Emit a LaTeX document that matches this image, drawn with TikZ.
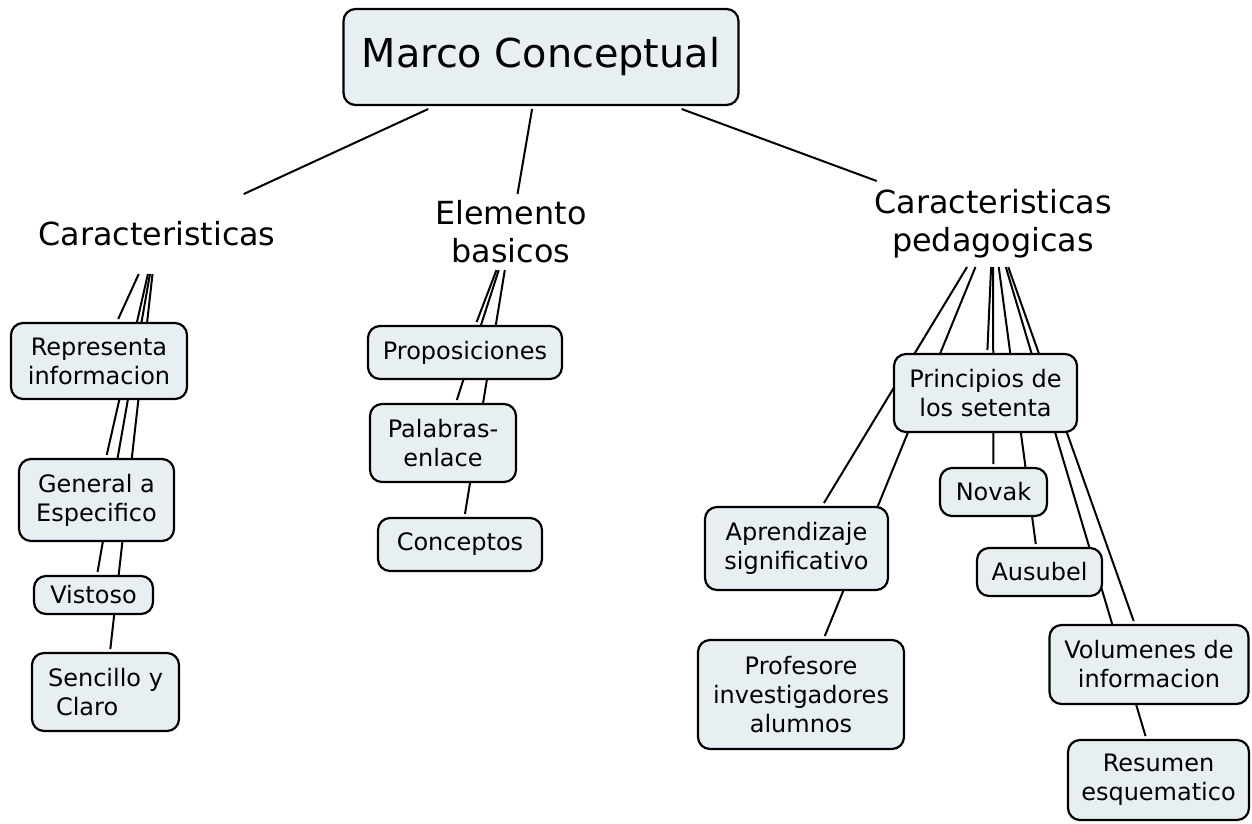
\documentclass[tikz,border=0pt]{standalone}
\usepackage{fontspec}
\setmainfont{DejaVu Sans}
\definecolor{cfill}{RGB}{232,239,242}
\pgfdeclarelayer{bg}
\pgfsetlayers{bg,main}
\begin{document}
\begin{tikzpicture}[x=1pt,y=-1pt,
  concept/.style={draw=black, line width=2.2pt, fill=cfill, rounded corners=12pt,
    align=center, inner sep=0pt, outer sep=4pt, font=\fontsize{24}{29}\selectfont},
  linkp/.style={align=center, inner sep=0pt, outer sep=0pt, font=\fontsize{31.8}{38}\selectfont},
  conn/.style={line width=2pt, draw=black}]
\useasboundingbox (0,0) rectangle (1252,823);

% top concept
\node[concept, minimum width=395pt, minimum height=96pt, font=\fontsize{39.8}{46}\selectfont] (marco) at (541,57) {Marco Conceptual};

% linking phrases
\node[linkp, minimum width=240pt, minimum height=80pt] (cara) at (157,234) {Caracteristicas};
\node[linkp, minimum width=160pt, minimum height=76pt] (elem) at (511,232) {Elemento\\basicos};
\node[linkp, minimum width=240pt, minimum height=86pt] (pedag) at (993,224) {Caracteristicas\\pedagogicas};

% left branch
\node[concept, minimum width=176pt, minimum height=76pt] (repr) at (99,361) {Representa\\informacion};
\node[concept, minimum width=155pt, minimum height=82pt] (gen) at (96.5,500) {General a\\Especifico};
\node[concept, minimum width=119pt, minimum height=38pt] (vist) at (93.5,595) {Vistoso};
\node[concept, minimum width=147pt, minimum height=78pt, align=left] (senc) at (105.5,692) {Sencillo y\\\hspace*{8pt}Claro};

% middle branch
\node[concept, minimum width=194pt, minimum height=53pt] (prop) at (465,352.5) {Proposiciones};
\node[concept, minimum width=146pt, minimum height=78pt] (pal) at (443,443) {Palabras-\\enlace};
\node[concept, minimum width=164pt, minimum height=53pt] (conc) at (460,544.5) {Conceptos};

% right branch
\node[concept, minimum width=183pt, minimum height=78pt] (princ) at (985.5,393) {Principios de\\los setenta};
\node[concept, minimum width=107pt, minimum height=48pt] (novak) at (993.5,492) {Novak};
\node[concept, minimum width=125pt, minimum height=48pt] (ausubel) at (1039.5,572) {Ausubel};
\node[concept, minimum width=183pt, minimum height=83pt] (aprend) at (796.5,548.5) {Aprendizaje\\significativo};
\node[concept, minimum width=206pt, minimum height=109pt] (prof) at (801,694.5) {Profesore\\investigadores\\alumnos};
\node[concept, minimum width=199pt, minimum height=79pt] (vol) at (1149,664.5) {Volumenes de\\informacion};
\node[concept, minimum width=181pt, minimum height=80pt] (res) at (1158.5,780) {Resumen\\esquematico};

\begin{pgfonlayer}{bg}
\fill[white] (0,0) rectangle (1252,823);
\draw[conn] (marco) -- (cara);
\draw[conn] (marco) -- (elem);
\draw[conn] (marco) -- (pedag);
\draw[conn] (cara) -- (repr);
\draw[conn] (cara) -- (gen);
\draw[conn] (cara) -- (vist);
\draw[conn] (cara) -- (senc);
\draw[conn] (elem) -- (prop);
\draw[conn] (elem) -- (pal);
\draw[conn] (elem) -- (conc);
\draw[conn] (pedag) -- (princ);
\draw[conn] (pedag) -- (aprend);
\draw[conn] (pedag) -- (prof);
\draw[conn] (pedag) -- (novak);
\draw[conn] (pedag) -- (ausubel);
\draw[conn] (pedag) -- (vol);
\draw[conn] (pedag) -- (res);
\end{pgfonlayer}
\end{tikzpicture}
\end{document}
